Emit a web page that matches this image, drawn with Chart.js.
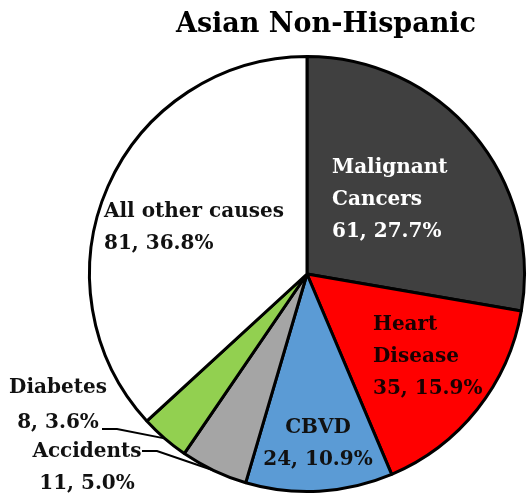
<!DOCTYPE html>
<html>
<head>
<meta charset="utf-8">
<script src="https://cdn.jsdelivr.net/npm/chart.js@4/dist/chart.umd.min.js"></script>
<style>
    html, body { margin: 0; padding: 0; background: #ffffff; }
    #wrap { width: 528px; height: 495px; position: relative; }
</style>
</head>
<body>
<div id="wrap"><canvas id="pie"></canvas></div>
<script>
// ============================================
// DATA
// ============================================

const TITLE = 'Asian Non-Hispanic';
const causes = ['Malignant Cancers', 'Heart Disease', 'CBVD', 'Accidents', 'Diabetes', 'All other causes'];
const deaths = [61, 35, 24, 11, 8, 81];
const percents = ['27.7%', '15.9%', '10.9%', '5.0%', '3.6%', '36.8%'];
const sliceColors = ['#404040', '#ff0000', '#5b9bd5', '#a5a5a5', '#92d050', '#ffffff'];

// label text lines per slice (name may wrap)
const labelLines = [
    ['Malignant', 'Cancers'],
    ['Heart', 'Disease'],
    ['CBVD'],
    ['Accidents'],
    ['Diabetes'],
    ['All other causes']
];

// label placement, offsets from pie centre; "leader" labels sit outside the pie
const labelStyle = [
    { ox: 25,   oy: -106, align: 'left',   color: '#ffffff' },
    { ox: 66,   oy: 51,   align: 'left',   color: '#1a0000' },
    { ox: 11,   oy: 154,  align: 'center', color: '#111111' },
    { ox: -220, oy: 178,  align: 'center', color: '#111111', leader: { x: -165, y: 177 } },
    { ox: -249, oy: 114,  align: 'center', color: '#111111', leader: { x: -205, y: 155 }, lineH: 35 },
    { ox: -203, oy: -62,  align: 'left',   color: '#111111' }
];

const FONT = '"DejaVu Serif", "Liberation Serif", serif';
const LINE_H = 32;

// ============================================
// PLUGINS
// ============================================

const titlePlugin = {
    id: 'plainTitle',
    afterDraw(chart) {
        const ctx = chart.ctx;
        ctx.save();
        ctx.font = 'bold 27px ' + FONT;
        ctx.fillStyle = '#000000';
        ctx.textAlign = 'center';
        ctx.textBaseline = 'middle';
        ctx.fillText(TITLE, 326, 25);
        ctx.restore();
    }
};

const sliceLabels = {
    id: 'sliceLabels',
    afterDatasetsDraw(chart) {
        const ctx = chart.ctx;
        const arcs = chart.getDatasetMeta(0).data;
        ctx.save();
        ctx.font = 'bold 20px ' + FONT;
        ctx.textBaseline = 'middle';

        arcs.forEach((arc, i) => {
            const st = labelStyle[i];
            const cx = arc.x, cy = arc.y;
            const lines = labelLines[i].concat([`${deaths[i]}, ${percents[i]}`]);
            const x = cx + st.ox;
            const y = cy + st.oy;
            const lh = st.lineH || LINE_H;

            ctx.fillStyle = st.color;
            ctx.textAlign = st.align;
            lines.forEach((line, k) => ctx.fillText(line, x, y + k * lh));

            // leader line from label to the slice edge at its mid angle
            if (st.leader) {
                const mid = (arc.startAngle + arc.endAngle) / 2;
                const ex = cx + Math.cos(mid) * arc.outerRadius;
                const ey = cy + Math.sin(mid) * arc.outerRadius;
                const lx = cx + st.leader.x;
                const ly = cy + st.leader.y;
                ctx.strokeStyle = '#000000';
                ctx.lineWidth = 2;
                ctx.beginPath();
                ctx.moveTo(lx, ly);
                ctx.lineTo(lx + 15, ly);
                ctx.lineTo(ex, ey);
                ctx.stroke();
            }
        });
        ctx.restore();
    }
};

// ============================================
// RENDER
// ============================================

new Chart(document.getElementById('pie'), {
    type: 'pie',
    data: {
        labels: causes,
        datasets: [{
            data: deaths,
            backgroundColor: sliceColors,
            borderColor: '#000000',
            borderWidth: 3
        }]
    },
    options: {
        responsive: true,
        maintainAspectRatio: false,
        animation: false,
        layout: {
            padding: { left: 88, right: 2, top: 55, bottom: 2 }
        },
        plugins: {
            legend: { display: false },
            title: { display: false },
            tooltip: { enabled: false }
        }
    },
    plugins: [sliceLabels, titlePlugin]
});
</script>
</body>
</html>
